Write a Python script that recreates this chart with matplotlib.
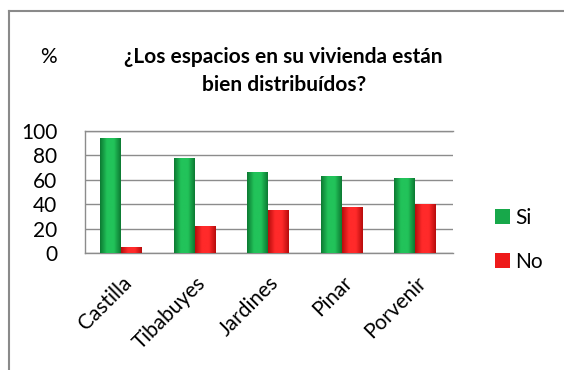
import matplotlib.pyplot as plt
import numpy as np
from matplotlib.lines import Line2D

categories = ['Castilla', 'Tibabuyes', 'Jardines', 'Pinar', 'Porvenir']
si_values = [94, 78, 66, 63, 61]
no_values = [5, 22, 35, 38, 40]

plt.rcParams['font.family'] = ['Lato', 'DejaVu Sans']

fig = plt.figure(figsize=(5.64, 3.70), dpi=100)
ax = fig.add_axes([0.1507, 0.316, 0.652, 0.331])

x = np.arange(len(categories))
w = 0.285
green_bars = ax.bar(x - w/2 - 0.01, si_values, w, color='#17a84a', label='Si', zorder=3)
red_bars = ax.bar(x + w/2 - 0.01, no_values, w, color='#ee1a1a', label='No', zorder=3)

# horizontal shading to mimic the bevelled bars
def shade(bars, dark, light):
    cmap = plt.matplotlib.colors.LinearSegmentedColormap.from_list('s', [dark, light, light, dark])
    grad = np.linspace(0, 1, 64).reshape(1, -1)
    for b in bars:
        x0, y0 = b.get_x(), b.get_y()
        im = ax.imshow(grad, cmap=cmap, aspect='auto', zorder=4,
                       extent=(x0, x0 + b.get_width(), y0, y0 + b.get_height()))
        im.set_clip_path(b)

shade(green_bars, '#0c7a32', '#22c35a')
shade(red_bars, '#b80c0c', '#ff2a2a')

ax.set_xlim(-0.5, len(categories) - 0.5)
ax.set_ylim(0, 100)
ax.set_yticks(range(0, 101, 20))
ax.yaxis.grid(True, color='#8c8c8c', linewidth=1.0, zorder=0)
ax.set_axisbelow(True)
ax.spines['right'].set_visible(False)
for s in ['left', 'bottom', 'top']:
    ax.spines[s].set_color('#8c8c8c')
    ax.spines[s].set_linewidth(1.0)
ax.tick_params(axis='y', length=0, labelsize=15, pad=20)
ax.tick_params(axis='x', length=0, labelsize=15, pad=14)
ax.set_xticks(x)
ax.set_xticklabels(categories, rotation=45, ha='right', rotation_mode='anchor')

fig.text(0.071, 0.845, '%', fontsize=15, va='center', ha='left')
fig.text(0.503, 0.808, '¿Los espacios en su vivienda están\nbien distribuídos?',
         fontsize=15, fontweight='bold', ha='center', va='center', linespacing=1.45)

leg = fig.legend(handles=[green_bars, red_bars], labels=['Si', 'No'],
                 loc='center left', bbox_to_anchor=(0.845, 0.352), frameon=False,
                 fontsize=15, handlelength=0.7, handleheight=0.7, handletextpad=0.25,
                 labelspacing=1.15)

# outer frame (only top and left visible)
fig.add_artist(Line2D([0.016, 0.016], [0.0, 0.97], transform=fig.transFigure,
                      color='#8a8a8a', linewidth=1.5))
fig.add_artist(Line2D([0.016, 0.998], [0.97, 0.97], transform=fig.transFigure,
                      color='#8a8a8a', linewidth=1.5))

fig.savefig('out.png', dpi=100)
